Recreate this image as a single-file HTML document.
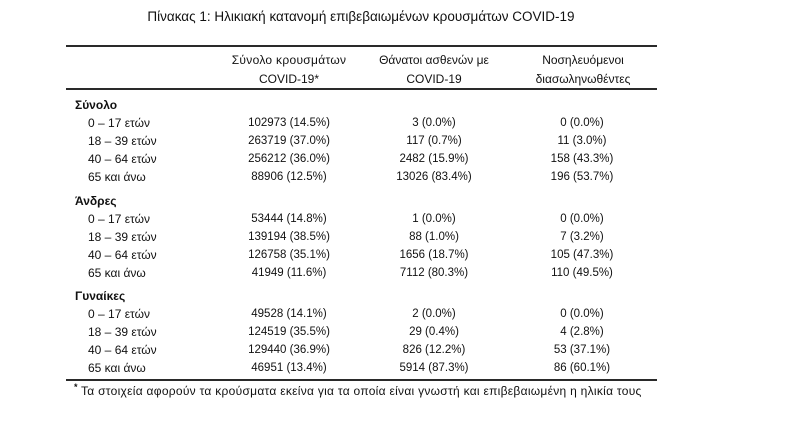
<!DOCTYPE html>
<html><head><meta charset="utf-8"><style>
html,body{margin:0;padding:0;background:#fff;}
body{width:787px;height:426px;position:relative;overflow:hidden;font-family:"Liberation Sans","DejaVu Sans",sans-serif;color:#111;}
.t{position:absolute;white-space:nowrap;height:18px;line-height:18px;font-size:12px;}
.c{text-align:center;width:200px;}
.n{font-size:11.5px;}
.b{font-weight:bold;}
.rule{position:absolute;left:66px;width:591px;height:1.5px;background:#2a2a2a;}
.rows{position:absolute;left:0;top:1px;width:787px;height:380px;}
</style></head><body>
<div class="t" style="left:0;width:722px;text-align:center;top:8px;font-size:13.5px;">Πίνακας 1: Ηλικιακή κατανομή επιβεβαιωμένων κρουσμάτων COVID-19</div>
<div class="rule" style="top:45px;"></div>
<div class="t c" style="left:189px;top:51px;letter-spacing:0.3px;">Σύνολο κρουσμάτων</div>
<div class="t c" style="left:189px;top:70px;">COVID-19*</div>
<div class="t c" style="left:334px;top:51px;">Θάνατοι ασθενών με</div>
<div class="t c" style="left:334px;top:70px;">COVID-19</div>
<div class="t c" style="left:483px;top:51px;">Νοσηλευόμενοι</div>
<div class="t c" style="left:483px;top:70px;">διασωληνωθέντες</div>
<div class="rule" style="top:88px;"></div>

<div class="rows">
<div class="t b" style="left:75px;top:95px;">Σύνολο</div>
<div class="t" style="left:88px;top:113px;">0 – 17 ετών</div>
<div class="t" style="left:88px;top:131px;">18 – 39 ετών</div>
<div class="t" style="left:88px;top:149px;">40 – 64 ετών</div>
<div class="t" style="left:88px;top:167px;">65 και άνω</div>
<div class="t c n" style="left:189px;top:113px;">102973 (14.5%)</div>
<div class="t c n" style="left:189px;top:131px;">263719 (37.0%)</div>
<div class="t c n" style="left:189px;top:149px;">256212 (36.0%)</div>
<div class="t c n" style="left:189px;top:167px;">88906 (12.5%)</div>
<div class="t c n" style="left:334px;top:113px;">3 (0.0%)</div>
<div class="t c n" style="left:334px;top:131px;">117 (0.7%)</div>
<div class="t c n" style="left:334px;top:149px;">2482 (15.9%)</div>
<div class="t c n" style="left:334px;top:167px;">13026 (83.4%)</div>
<div class="t c n" style="left:482px;top:113px;">0 (0.0%)</div>
<div class="t c n" style="left:482px;top:131px;">11 (3.0%)</div>
<div class="t c n" style="left:482px;top:149px;">158 (43.3%)</div>
<div class="t c n" style="left:482px;top:167px;">196 (53.7%)</div>

<div class="t b" style="left:75px;top:191px;">Άνδρες</div>
<div class="t" style="left:88px;top:209px;">0 – 17 ετών</div>
<div class="t" style="left:88px;top:227px;">18 – 39 ετών</div>
<div class="t" style="left:88px;top:245px;">40 – 64 ετών</div>
<div class="t" style="left:88px;top:263px;">65 και άνω</div>
<div class="t c n" style="left:189px;top:209px;">53444 (14.8%)</div>
<div class="t c n" style="left:189px;top:227px;">139194 (38.5%)</div>
<div class="t c n" style="left:189px;top:245px;">126758 (35.1%)</div>
<div class="t c n" style="left:189px;top:263px;">41949 (11.6%)</div>
<div class="t c n" style="left:334px;top:209px;">1 (0.0%)</div>
<div class="t c n" style="left:334px;top:227px;">88 (1.0%)</div>
<div class="t c n" style="left:334px;top:245px;">1656 (18.7%)</div>
<div class="t c n" style="left:334px;top:263px;">7112 (80.3%)</div>
<div class="t c n" style="left:482px;top:209px;">0 (0.0%)</div>
<div class="t c n" style="left:482px;top:227px;">7 (3.2%)</div>
<div class="t c n" style="left:482px;top:245px;">105 (47.3%)</div>
<div class="t c n" style="left:482px;top:263px;">110 (49.5%)</div>

<div class="t b" style="left:75px;top:286px;">Γυναίκες</div>
<div class="t" style="left:88px;top:304px;">0 – 17 ετών</div>
<div class="t" style="left:88px;top:322px;">18 – 39 ετών</div>
<div class="t" style="left:88px;top:340px;">40 – 64 ετών</div>
<div class="t" style="left:88px;top:358px;">65 και άνω</div>
<div class="t c n" style="left:189px;top:304px;">49528 (14.1%)</div>
<div class="t c n" style="left:189px;top:322px;">124519 (35.5%)</div>
<div class="t c n" style="left:189px;top:340px;">129440 (36.9%)</div>
<div class="t c n" style="left:189px;top:358px;">46951 (13.4%)</div>
<div class="t c n" style="left:334px;top:304px;">2 (0.0%)</div>
<div class="t c n" style="left:334px;top:322px;">29 (0.4%)</div>
<div class="t c n" style="left:334px;top:340px;">826 (12.2%)</div>
<div class="t c n" style="left:334px;top:358px;">5914 (87.3%)</div>
<div class="t c n" style="left:482px;top:304px;">0 (0.0%)</div>
<div class="t c n" style="left:482px;top:322px;">4 (2.8%)</div>
<div class="t c n" style="left:482px;top:340px;">53 (37.1%)</div>
<div class="t c n" style="left:482px;top:358px;">86 (60.1%)</div>
</div>

<div class="rule" style="top:379px;"></div>
<div class="t" style="left:74px;top:378px;font-size:9px;font-weight:bold;">*</div>
<div class="t" style="left:81px;top:382px;letter-spacing:0.28px;">Τα στοιχεία αφορούν τα κρούσματα εκείνα για τα οποία είναι γνωστή και επιβεβαιωμένη η ηλικία τους</div>
</body></html>
